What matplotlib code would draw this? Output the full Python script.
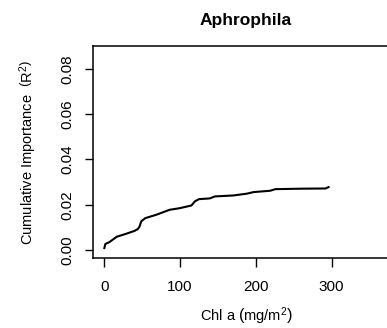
import numpy as np
import matplotlib.pyplot as plt

plt.rcParams['font.family'] = ['Liberation Sans', 'DejaVu Sans']
plt.rcParams['mathtext.fontset'] = 'custom'
plt.rcParams['mathtext.rm'] = 'Liberation Sans'
plt.rcParams['mathtext.it'] = 'Liberation Sans:italic'

# cumulative importance curve for Chl a
chla = [0, 1.3, 6.6, 16.4, 28.8, 40, 44.2, 46.5, 48.7, 54, 68.6, 86.3, 99.6,
        115, 119.5, 125, 139, 146, 170, 188, 197, 219, 225.7, 259, 292, 296]
cum_imp = [0.0009, 0.0027, 0.0035, 0.0059, 0.0072, 0.0085, 0.0093, 0.0104, 0.0127,
           0.0141, 0.0156, 0.0178, 0.0185, 0.0197, 0.0215, 0.0225, 0.0228, 0.0237,
           0.0241, 0.0249, 0.0256, 0.0262, 0.0269, 0.0271, 0.0272, 0.0278]
xticks = [0, 100, 200, 300]
yticks = [0.00, 0.02, 0.04, 0.06, 0.08]

fig = plt.figure(figsize=(3.87, 3.28), dpi=100)
ax = fig.add_axes([0.2403, 0.2134, 0.7907, 0.6463])
ax.plot(chla, cum_imp, color='black', lw=1.5)
ax.set_xlim(-15, 389)
ax.set_ylim(-0.0035, 0.0901)
ax.set_xticks(xticks)
ax.set_xticklabels([str(v) for v in xticks])
ax.set_yticks(yticks)
ax.set_yticklabels(['%.2f' % v for v in yticks], rotation=90, va='center')
ax.tick_params(axis='x', length=6.5, width=1, labelsize=11, pad=9.5)
ax.tick_params(axis='y', length=6, width=1, labelsize=11, pad=7.5)
for s in ax.spines.values():
    s.set_linewidth(1.1)

fig.text(246 / 387, 1 - 20 / 328, 'Aphrophila', ha='center', va='center',
         fontsize=12.5, fontweight='bold')
fig.text(246 / 387, 1 - 316 / 328, r'Chl a $\left(\mathrm{mg/m^2}\right)$', ha='center',
         va='center', fontsize=10.5)
fig.text(28 / 387, 1 - 152 / 328, r'Cumulative Importance  $\left(\mathrm{R^2}\right)$',
         ha='center', va='center', rotation=90, fontsize=10.5)

fig.savefig('out.png', dpi=100)
